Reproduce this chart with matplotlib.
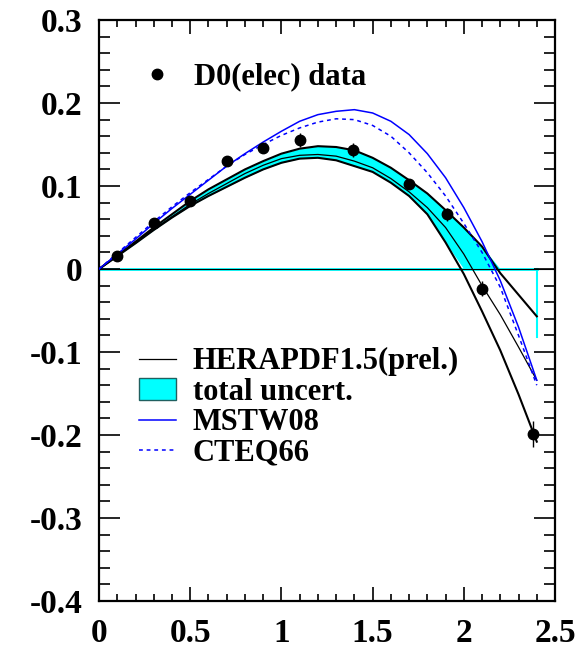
import numpy as np
import matplotlib
matplotlib.use("Agg")
import matplotlib.pyplot as plt
from matplotlib.lines import Line2D
from matplotlib.patches import Patch

# eta grid for the theory curves
eta = [0.0, 0.1, 0.2, 0.3, 0.4, 0.5, 0.6, 0.7, 0.8, 0.9, 1.0, 1.1, 1.2,
       1.3, 1.4, 1.5, 1.6, 1.7, 1.8, 1.9, 2.0, 2.1, 2.2, 2.3, 2.4]

hera_central = [0.0, 0.016, 0.032, 0.048, 0.063, 0.078, 0.091, 0.103, 0.115,
                0.125, 0.133, 0.137, 0.138, 0.136, 0.130, 0.122, 0.109, 0.093,
                0.074, 0.050, 0.018, -0.020, -0.055, -0.094, -0.134]
hera_upper = [0.0, 0.0165, 0.033, 0.050, 0.066, 0.082, 0.096, 0.108, 0.120,
              0.130, 0.139, 0.145, 0.148, 0.147, 0.143, 0.134, 0.122, 0.107,
              0.091, 0.071, 0.050, 0.027, -0.005, -0.031, -0.057]
hera_lower = [0.0, 0.0155, 0.031, 0.047, 0.062, 0.076, 0.088, 0.099, 0.110,
              0.120, 0.128, 0.133, 0.134, 0.131, 0.124, 0.117, 0.104, 0.088,
              0.066, 0.032, -0.006, -0.051, -0.098, -0.151, -0.208]
mstw08 = [0.0, 0.018, 0.036, 0.055, 0.073, 0.090, 0.107, 0.124, 0.139,
          0.153, 0.166, 0.178, 0.186, 0.190, 0.192, 0.188, 0.178, 0.162,
          0.139, 0.110, 0.074, 0.033, -0.014, -0.070, -0.134]
cteq66 = [0.0, 0.019, 0.038, 0.057, 0.075, 0.092, 0.108, 0.124, 0.138,
          0.150, 0.161, 0.170, 0.177, 0.181, 0.180, 0.173, 0.160, 0.140,
          0.116, 0.088, 0.055, 0.020, -0.022, -0.080, -0.140]
fill_base_end = -0.082

# D0 electron asymmetry measurement
d0_eta = [0.1, 0.3, 0.5, 0.7, 0.9, 1.1, 1.39, 1.7, 1.91, 2.1, 2.38]
d0_asym = [0.0157, 0.055, 0.082, 0.130, 0.146, 0.155, 0.143, 0.102, 0.066,
           -0.024, -0.199]
d0_err = [0.004, 0.004, 0.004, 0.004, 0.005, 0.0085, 0.0085, 0.005, 0.008,
          0.009, 0.016]

serif = ["Liberation Serif", "DejaVu Serif"]
plt.rcParams["font.family"] = serif
plt.rcParams["font.weight"] = "bold"

fig = plt.figure(figsize=(5.87, 6.48), dpi=100)
ax = fig.add_axes([0.1687, 0.0725, 0.7768, 0.8966])

x = np.array(eta)
up = np.array(hera_upper)
lo = np.array(hera_lower)

# uncertainty band (filled only above zero), outline along the axis
ax.fill_between(x, np.clip(lo, 0, None), np.clip(up, 0, None),
                color="#00FFFF", lw=0, zorder=1)
ax.plot([x[0], x[-1]], [0, 0], color="#00FFFF", lw=2.0, zorder=1)
ax.plot([x[-1], x[-1]], [0, fill_base_end], color="#00FFFF", lw=1.5, zorder=1)
ax.axhline(0, color="black", lw=0.8, zorder=2)

ax.plot(x, up, color="black", lw=1.5, zorder=3)
ax.plot(x, lo, color="black", lw=1.5, zorder=3)
ax.plot(x, hera_central, color="black", lw=0.9, zorder=3)
ax.plot(x, mstw08, color="#0000FF", lw=1.1, zorder=3)
ax.plot(x, cteq66, color="#0000FF", lw=1.1, ls=(0, (2.5, 2.5)), zorder=3)

ax.errorbar(d0_eta, d0_asym, yerr=d0_err, fmt="o", color="black",
            markersize=7.5, elinewidth=1.0, capsize=0, zorder=5)

ax.set_xlim(0, 2.5)
ax.set_ylim(-0.4, 0.3)
ax.set_xticks([0, 0.5, 1, 1.5, 2, 2.5])
ax.set_xticklabels(["0", "0.5", "1", "1.5", "2", "2.5"])
ax.set_yticks([-0.4, -0.3, -0.2, -0.1, 0, 0.1, 0.2, 0.3])
ax.set_yticklabels(["-0.4", "-0.3", "-0.2", "-0.1", "0", "0.1", "0.2", "0.3"])
ax.set_xticks(np.arange(0, 2.51, 0.1), minor=True)
ax.set_yticks(np.arange(-0.4, 0.301, 0.02), minor=True)

ax.tick_params(axis="both", which="both", direction="in", top=True, right=True,
               width=1.2, labelsize=24, pad=12)
ax.tick_params(axis="y", which="major", length=15)
ax.tick_params(axis="y", which="minor", length=8)
ax.tick_params(axis="x", which="major", length=10)
ax.tick_params(axis="x", which="minor", length=5)
for lab in ax.get_xticklabels() + ax.get_yticklabels():
    lab.set_fontweight("bold")
for sp in ax.spines.values():
    sp.set_linewidth(1.6)

lfont = {"family": serif, "weight": "bold", "size": 22}

data_handle = Line2D([], [], marker="o", color="black", ls="none", markersize=7.5)
leg1 = ax.legend([data_handle], ["D0(elec) data"], loc="upper left",
                 bbox_to_anchor=(0.06, 0.948), frameon=False, prop=lfont,
                 handlelength=1.2, handletextpad=0.6, borderaxespad=0)
ax.add_artist(leg1)

handles = [
    Line2D([], [], color="black", lw=0.9),
    Patch(facecolor="#00FFFF", edgecolor="#206060", lw=1.0),
    Line2D([], [], color="#0000FF", lw=1.1),
    Line2D([], [], color="#0000FF", lw=1.1, ls=(0, (2.5, 2.5))),
]
labels = ["HERAPDF1.5(prel.)", "total uncert.", "MSTW08", "CTEQ66"]
ax.legend(handles, labels, loc="upper left", bbox_to_anchor=(0.061, 0.458),
          frameon=False, prop=lfont, handlelength=1.2, handleheight=0.7,
          handletextpad=0.55, labelspacing=0.05, borderaxespad=0)

fig.savefig("out.png", dpi=100)
